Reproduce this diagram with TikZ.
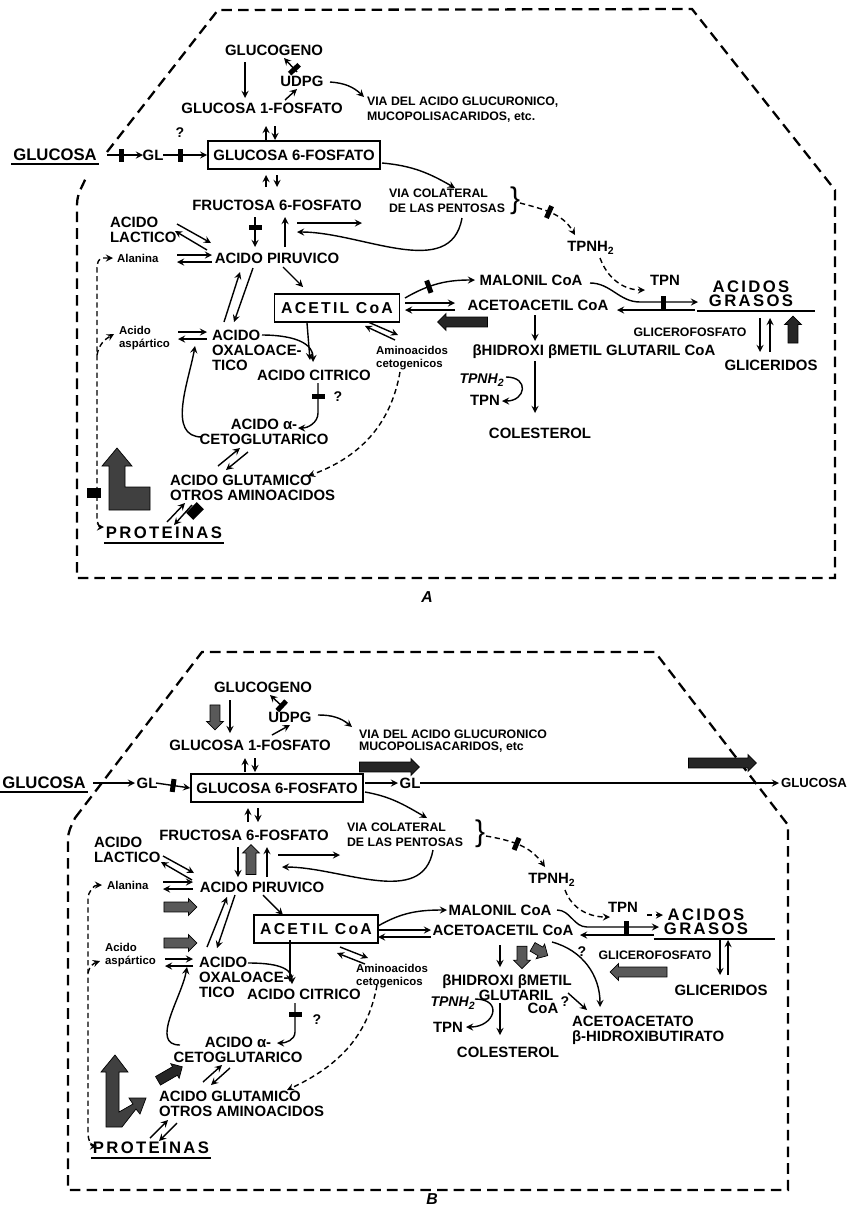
\documentclass[tikz,border=0pt]{standalone}
\usepackage{fontspec}
\setmainfont{Liberation Sans}
\newfontfamily\hvs[LetterSpace=14]{Liberation Sans}
\usetikzlibrary{calc,shapes.arrows}
\tikzset{
  lbl/.style={font=\bfseries\fontsize{8.5}{8.5}\selectfont, inner sep=1pt, align=left},
  sub/.style={font=\bfseries\fontsize{7}{8.5}\selectfont, inner sep=1pt, align=left},
  sml/.style={font=\bfseries\fontsize{6.5}{7.5}\selectfont, inner sep=1pt, align=left},
  itl/.style={font=\bfseries\itshape\fontsize{8}{8}\selectfont, inner sep=1pt},
  ttl/.style={font=\bfseries\fontsize{9.5}{8}\selectfont, inner sep=1pt},
  spc/.style={font=\hvs\bfseries\fontsize{9.5}{8}\selectfont, inner sep=1pt, align=center},
  bx/.style={lbl, draw, line width=1pt, inner xsep=3pt, minimum height=0.56cm},
  acbx/.style={draw, line width=1pt, font=\hvs\bfseries\fontsize{9}{9}\selectfont, minimum width=2.5cm, minimum height=0.56cm},
  brc/.style={font=\fontsize{17}{17}\selectfont, inner sep=0pt},
  qm/.style={font=\bfseries\fontsize{8}{8}\selectfont, inner sep=0pt},
  ar/.style={draw, line width=0.8pt, ->, >=stealth},
  dar/.style={ar, dash pattern=on 3pt off 2pt},
  bnd/.style={draw, line width=1.3pt, dash pattern=on 6pt off 3.5pt},
  uline/.style={draw, line width=1.2pt},
  brk/.style={fill=black, inner sep=0pt, minimum width=0.1cm, minimum height=0.26cm, sloped},
  blk/.style={fill=black, inner sep=0pt, minimum width=0.3cm, minimum height=0.2cm},
  fatar/.style={single arrow, draw=black, fill=black!85, inner sep=0pt, inner ysep=2.6pt,
    single arrow head extend=2pt, minimum height=#1},
  hfat/.style={fatar=#1, fill=black!65}
}
\begin{document}
\begin{tikzpicture}[x=0.02cm, y=-0.02cm]
\useasboundingbox (0,0) rectangle (847,1207);

% ---------- A ----------
\draw[bnd] (107,152) -- (218,10) -- (692,9) -- (835,190) -- (835,578) -- (77,578) -- (77,205) to[out=90,in=-110] (87,175);

\node[lbl] (glyA) at (274,50) {GLUCOGENO};
\node[lbl] (udpgA) at (302,81) {UDPG};
\node[lbl] (g1pA) at (262,108) {GLUCOSA 1-FOSFATO};
\node[sub, anchor=west] (viaA) at (365,110) {VIA DEL ACIDO GLUCURONICO,\\MUCOPOLISACARIDOS, etc.};
\node[ttl] (gA) at (55,155) {GLUCOSA};
\node[lbl] (glA) at (153,155) {GL};
\node[bx] (g6pA) at (294,155) {GLUCOSA 6-FOSFATO};
\node[lbl] (fruA) at (277,205) {FRUCTOSA 6-FOSFATO};
\node[lbl, anchor=west] (lacA) at (108,230) {ACIDO\\LACTICO};
\node[sml, anchor=west] (alaA) at (115,258) {Alanina};
\node[lbl] (pirA) at (277,258) {ACIDO PIRUVICO};
\node[sub, anchor=west] (colA) at (387,201) {VIA COLATERAL\\DE LAS PENTOSAS};
\node[brc] (brA) at (515,201) {\}};
\node[lbl] (tpA) at (591,248) {TPNH\textsubscript{2}};
\node[lbl] (tnA) at (665,280) {TPN};
\node[lbl] (malA) at (531,280) {MALONIL CoA};
\node[acbx] (acA) at (337,308) {ACETIL CoA};
\node[lbl] (aacA) at (538,305) {ACETOACETIL CoA};
\node[spc] (agA) at (751,294) {ACIDOS\\GRASOS};
\node[sub] (gfA) at (690,332) {GLICEROFOSFATO};
\node[lbl] (glcA) at (771,365) {GLICERIDOS};
\node[lbl] (hmA) at (594,352) {βHIDROXI βMETIL GLUTARIL CoA};
\node[itl] (tp2A) at (482,380) {TPNH\textsubscript{2}};
\node[lbl] (tn2A) at (485,400) {TPN};
\node[lbl] (clA) at (540,433) {COLESTEROL};
\node[sml, anchor=west] (asA) at (117,338) {Acido\\aspártico};
\node[lbl, anchor=west] (oxA) at (210,350) {ACIDO\\OXALOACE-\\TICO};
\node[lbl] (ciA) at (314,375) {ACIDO CITRICO};
\node[sml] (amA) at (412,358) {Aminoacidos\\cetogenicos};
\node[lbl, align=center] (akA) at (264,432) {ACIDO α-\\CETOGLUTARICO};
\node[lbl, anchor=west] (guA) at (168,488) {ACIDO GLUTAMICO\\OTROS AMINOACIDOS};
\node[spc] (prA) at (164,533) {PROTEINAS};
\node[itl, font=\bfseries\itshape\fontsize{9}{9}\selectfont] (labA) at (427,597) {A};
\node[qm] (qA1) at (180,133) {?};
\node[qm] (qA2) at (338,397) {?};

\draw[uline] ($(gA.south west)+(0,1)$) -- ($(gA.south east)+(0,1)$);
\draw[uline] ($(prA.south west)+(0,2)$) -- ($(prA.south east)+(0,2)$);
\draw[uline] ($(agA.south west)+(-10,2)$) -- ($(agA.south east)+(20,2)$);

\draw[ar] ($(glyA)+(-29,12)$) -- ($(g1pA)+(-17,-10)$);
\draw[ar] ($(udpgA)+(-5,-9)$) -- node[brk, pos=0.2]{} ($(glyA)+(10,8)$);
\draw[ar] ($(g1pA)+(23,-8)$) -- ($(udpgA)+(-5,8)$);
\draw[ar] ($(udpgA)+(28,1)$) to[bend left=20] ($(viaA.west)+(-1,-13)$);
\draw[ar] ($(g6pA)+(-28,-15)$) -- ($(g1pA)+(4,18)$);
\draw[ar] ($(g1pA)+(13,18)$) -- ($(g6pA)+(-19,-15)$);
\draw[ar] ($(gA)+(52,0)$) -- node[brk, pos=0.4]{} ($(glA)+(-10,0)$);
\draw[ar] ($(glA)+(10,0)$) -- node[brk, pos=0.4]{} (g6pA.west);
\draw[ar] ($(g6pA)+(88,8)$) to[out=-5,in=150] ($(colA.west)+(68,-13)$);
\draw[ar] ($(fruA)+(-11,-18)$) -- ($(g6pA)+(-28,20)$);
\draw[ar] ($(g6pA)+(-17,20)$) -- ($(fruA)+(0,-18)$);
\draw[ar] ($(fruA)+(-22,12)$) -- node[brk, pos=0.35]{} ($(pirA)+(-22,-11)$);
\draw[ar] ($(pirA)+(8,-11)$) -- ($(fruA)+(8,12)$);
\draw[ar] ($(pirA)+(20,-35)$) -- ($(colA.west)+(-25,22)$);
\draw[ar] ($(colA.west)+(75,17)$) to[out=-100,in=0] ($(pirA)+(20,-26)$);
\draw[dar] ($(brA)+(5,2)$) to[out=-15,in=120] node[brk, pos=0.45]{} ($(tpA)+(-16,-13)$);
\draw[dar] ($(tpA)+(9,10)$) to[out=-70,in=180] ($(tnA)+(-20,10)$);
\draw[ar] ($(acA)+(68,-10)$) to[out=30,in=180] node[brk, pos=0.35]{} ($(malA)+(-56,0)$);
\draw[ar] ($(acA)+(68,-5)$) -- ($(aacA)+(-83,-2)$);
\draw[ar] ($(aacA)+(-83,5)$) -- ($(acA)+(68,2)$);
\node[fatar=1cm, rotate=180] (faA1) at (465,322) {};
\draw[ar] ($(malA)+(59,3)$) to[out=0,in=180] ($(malA)+(109,22)$) -- node[brk, pos=0.4]{} ($(agA)+(-53,8)$);
\draw[ar] ($(agA)+(-56,16)$) -- ($(aacA)+(79,5)$);
\draw[ar] ($(aacA)+(-3,10)$) -- ($(hmA)+(-59,-11)$);
\draw[ar] ($(hmA)+(-59,9)$) -- ($(clA)+(-5,-20)$);
\draw[ar] ($(tp2A)+(24,-3)$) to[out=0,in=0,looseness=2.5] ($(tn2A)+(17,1)$);
\draw[ar] ($(agA)+(9,24)$) -- ($(glcA)+(-11,-13)$);
\draw[ar] ($(glcA)+(-1,-13)$) -- ($(agA)+(19,24)$);
\node[fatar=0.54cm, rotate=90] (faA2) at (793,332) {};
\draw[ar] ($(pirA)+(6,9)$) -- ($(acA)+(-34,-21)$);
\draw[ar] ($(oxA.west)+(14,-28)$) -- ($(pirA)+(-37,14)$);
\draw[ar] ($(pirA)+(-24,10)$) -- ($(oxA.west)+(24,-28)$);
\draw[ar] ($(lacA.west)+(69,-6)$) -- ($(pirA)+(-66,-15)$);
\draw[ar] ($(pirA)+(-70,-8)$) -- ($(lacA.west)+(67,1)$);
\draw[ar] ($(alaA.west)+(62,-3)$) -- ($(pirA)+(-65,-3)$);
\draw[ar] ($(pirA)+(-65,4)$) -- ($(alaA.west)+(62,4)$);
\draw[ar] ($(asA.west)+(61,-6)$) -- ($(oxA.west)+(-3,-18)$);
\draw[ar] ($(oxA.west)+(-3,-11)$) -- ($(asA.west)+(61,1)$);
\draw[ar] ($(oxA.west)+(52,-15)$) to[out=0,in=90] ($(ciA)+(-1,-13)$);
\draw[ar] ($(acA)+(-30,15)$) -- ($(ciA)+(-4,-15)$);
\draw[ar] ($(ciA)+(4,8)$) -- node[brk, pos=0.45]{} ($(ciA)+(4,38)$) to[out=-90,in=0] ($(akA)+(34,-4)$);
\draw[ar] ($(akA)+(-62,5)$) to[out=180,in=-100] ($(oxA.west)+(-15,-4)$);
\draw[ar] ($(guA.west)+(50,-22)$) -- ($(akA)+(-24,16)$);
\draw[ar] ($(akA)+(-16,20)$) -- ($(guA.west)+(58,-18)$);
\draw[dar] ($(amA)+(-12,14)$) to[out=-100,in=20] ($(guA.west)+(140,-12)$);
\draw[ar] ($(acA)+(31,14)$) -- ($(amA)+(-14,-23)$);
\draw[ar] ($(amA)+(-17,-18)$) -- ($(acA)+(28,18)$);
\draw[ar] ($(prA)+(3,-11)$) -- ($(guA.west)+(17,15)$);
\draw[ar] ($(guA.west)+(24,17)$) -- ($(prA)+(10,-8)$);
\node[blk, rotate=45] (bkA1) at (195,511) {};
\draw[dar, <->] ($(alaA.west)+(-2,0)$) -- ($(alaA.west)+(-12,0)$) to[out=180,in=90] ($(alaA.west)+(-18,10)$)
  -- ($(prA)+(-67,-15)$) to[out=-90,in=180] ($(prA)+(-60,-6)$);
\draw[dar] ($(alaA.west)+(-18,97)$) to[out=80,in=210] ($(asA.west)+(-3,-4)$);
\node[blk] (bkA2) at (94,493) {};
\filldraw[fill=black!75] (117,448) -- (132,466) -- (125,466) -- (125,487) -- (150,487) -- (150,510)
  -- (109,510) -- (109,466) -- (102,466) -- cycle;

% ---------- B ----------
\draw[bnd] (75,818) -- (202,652) -- (655,652) -- (788,825) -- (788,1190) -- (68,1190) -- (68,840) to[out=90,in=-115] (75,818);

\node[lbl] (glyB) at (263,687) {GLUCOGENO};
\node[lbl] (udpgB) at (290,717) {UDPG};
\node[lbl] (g1pB) at (250,745) {GLUCOSA 1-FOSFATO};
\node[sub, anchor=west] (viaB) at (357,741) {VIA DEL ACIDO GLUCURONICO\\[-2pt]MUCOPOLISACARIDOS, etc};
\node[ttl] (gB) at (44,783) {GLUCOSA};
\node[lbl] (glB) at (147,783) {GL};
\node[bx] (g6pB) at (277,788) {GLUCOSA 6-FOSFATO};
\node[lbl] (gl2B) at (410,783) {GL};
\node[sub, font=\bfseries\fontsize{7.5}{8}\selectfont, anchor=west] (grB) at (779,783) {GLUCOSA};
\node[lbl] (fruB) at (244,835) {FRUCTOSA 6-FOSFATO};
\node[sub, anchor=west] (colB) at (345,835) {VIA COLATERAL\\DE LAS PENTOSAS};
\node[brc] (brB) at (480,834) {\}};
\node[lbl, anchor=west] (lacB) at (92,850) {ACIDO\\LACTICO};
\node[sml, anchor=west] (alaB) at (105,885) {Alanina};
\node[lbl] (pirB) at (262,887) {ACIDO PIRUVICO};
\node[lbl] (tpB) at (552,880) {TPNH\textsubscript{2}};
\node[lbl] (tnB) at (623,907) {TPN};
\node[lbl] (malB) at (500,910) {MALONIL CoA};
\node[lbl] (aacB) at (503,930) {ACETOACETIL CoA};
\node[spc] (agB) at (706,922) {ACIDOS\\GRASOS};
\node[acbx, minimum width=2.36cm] (acB) at (316,929) {ACETIL CoA};
\node[sml, anchor=west] (asB) at (103,955) {Acido\\aspártico};
\node[lbl, anchor=west] (oxB) at (197,977) {ACIDO\\OXALOACE-\\TICO};
\node[lbl] (ciB) at (304,994) {ACIDO CITRICO};
\node[sml] (amB) at (392,976) {Aminoacidos\\cetogenicos};
\node[sub] (gfB) at (655,955) {GLICEROFOSFATO};
\node[lbl] (glcB) at (721,990) {GLICERIDOS};
\node[lbl] (hm1B) at (507,982) {βHIDROXI βMETIL};
\node[lbl] (hm2B) at (516,995) {GLUTARIL};
\node[lbl] (hm3B) at (543,1008) {CoA};
\node[lbl, anchor=west] (aaB) at (570,1030) {ACETOACETATO\\β-HIDROXIBUTIRATO};
\node[itl] (tp2B) at (453,1003) {TPNH\textsubscript{2}};
\node[lbl] (tn2B) at (448,1027) {TPN};
\node[lbl] (clB) at (508,1052) {COLESTEROL};
\node[lbl, align=center] (akB) at (238,1050) {ACIDO α-\\CETOGLUTARICO};
\node[lbl, anchor=west] (guB) at (157,1104) {ACIDO GLUTAMICO\\OTROS AMINOACIDOS};
\node[spc] (prB) at (151,1148) {PROTEINAS};
\node[itl, font=\bfseries\itshape\fontsize{9}{9}\selectfont] (labB) at (432,1199) {B};
\node[qm] (qB1) at (317,1020) {?};
\node[qm] (qB2) at (582,952) {?};
\node[qm] (qB3) at (565,1002) {?};

\draw[uline] ($(gB.south west)+(0,1)$) -- ($(gB.south east)+(0,1)$);
\draw[uline] ($(prB.south west)+(0,2)$) -- ($(prB.south east)+(0,2)$);
\draw[uline] ($(agB.south west)+(-8,2)$) -- ($(agB.south east)+(25,2)$);

\draw[ar] ($(glyB)+(-33,13)$) -- ($(g1pB)+(-20,-12)$);
\node[hfat=0.5cm, rotate=-90] (fbB1) at (215,715) {};
\draw[ar] ($(udpgB)+(-7,-10)$) -- node[brk, pos=0.1]{} ($(glyB)+(7,8)$);
\draw[ar] ($(g1pB)+(22,-10)$) -- ($(udpgB)+(0,8)$);
\draw[ar] ($(udpgB)+(28,-2)$) to[bend left=20] ($(viaB.west)+(-5,-14)$);
\draw[ar] ($(g6pB)+(-32,-16)$) -- ($(g1pB)+(-5,13)$);
\draw[ar] ($(g1pB)+(5,13)$) -- ($(g6pB)+(-22,-16)$);
\draw[ar] ($(gB)+(49,0)$) -- ($(glB)+(-12,0)$);
\draw[ar] ($(glB)+(9,0)$) -- node[brk]{} (g6pB.west);
\draw[ar] ($(g6pB)+(88,-5)$) -- ($(gl2B)+(-12,0)$);
\draw[ar] ($(gl2B)+(10,0)$) -- (grB.west);
\node[fatar=1.2cm] (fbB2) at (387,767) {};
\node[fatar=1.36cm] (fbB3) at (720,763) {};
\draw[ar] ($(g6pB)+(88,4)$) to[out=-10,in=150] ($(colB.west)+(82,-17)$);
\draw[ar] ($(fruB)+(4,-13)$) -- ($(g6pB)+(-29,20)$);
\draw[ar] ($(g6pB)+(-19,20)$) -- ($(fruB)+(14,-13)$);
\draw[ar] ($(fruB)+(-6,12)$) -- ($(pirB)+(-24,-10)$);
\node[hfat=0.6cm, rotate=90] (fbB4) at (251,862) {};
\draw[ar] ($(pirB)+(5,-10)$) -- ($(fruB)+(23,12)$);
\draw[ar] ($(fruB)+(34,20)$) -- ($(colB.west)+(-5,20)$);
\draw[ar] ($(colB.west)+(88,15)$) to[out=-100,in=0] ($(pirB)+(20,-20)$);
\draw[dar] ($(brB)+(6,2)$) to[out=-10,in=125] node[brk, pos=0.45]{} ($(tpB)+(-7,-13)$);
\draw[dar] ($(tpB)+(13,10)$) to[out=-70,in=180] ($(tnB)+(-13,10)$);
\draw[dar] ($(tnB)+(24,8)$) -- ($(agB)+(-43,-7)$);
\draw[ar] ($(acB)+(62,-3)$) to[out=30,in=180] ($(malB)+(-53,0)$);
\draw[ar] ($(acB)+(62,1)$) -- ($(aacB)+(-72,0)$);
\draw[ar] ($(aacB)+(-72,7)$) -- ($(acB)+(62,8)$);
\draw[ar] ($(malB)+(57,0)$) to[out=0,in=180] ($(malB)+(87,17)$) -- node[brk, pos=0.55]{} ($(agB)+(-47,5)$);
\draw[ar] ($(agB)+(-52,13)$) -- ($(aacB)+(77,5)$);
\draw[ar] ($(aacB)+(49,12)$) to[out=-15,in=90] ($(aaB.west)+(30,-23)$);
\draw[ar] ($(aacB)+(-3,15)$) -- ($(hm1B)+(-7,-15)$);
\node[hfat=0.45cm, rotate=-90] (fbB5) at (522,955) {};
\node[hfat=0.35cm, rotate=-30] (fbB6) at (538,950) {};
\draw[ar] ($(hm2B)+(-16,8)$) -- ($(clB)+(-8,-17)$);
\draw[ar] ($(tp2B)+(22,-4)$) to[out=0,in=0,looseness=2.5] ($(tn2B)+(18,0)$);
\draw[ar] ($(hm3B)+(25,-15)$) -- ($(aaB.west)+(17,-20)$);
\draw[ar] ($(agB)+(14,18)$) -- ($(glcB)+(-1,-15)$);
\draw[ar] ($(glcB)+(7,-15)$) -- ($(agB)+(22,18)$);
\node[hfat=1.14cm, rotate=180] (fbB7) at (641,972) {};
\draw[ar] ($(pirB)+(1,8)$) -- ($(acB)+(-33,-14)$);
\draw[ar] ($(oxB.west)+(10,-30)$) -- ($(pirB)+(-35,10)$);
\draw[ar] ($(pirB)+(-27,8)$) -- ($(oxB.west)+(20,-29)$);
\draw[ar] ($(lacB.west)+(71,6)$) -- ($(pirB)+(-68,-14)$);
\draw[ar] ($(pirB)+(-70,-7)$) -- ($(lacB.west)+(69,12)$);
\draw[ar] ($(alaB.west)+(58,-3)$) -- ($(pirB)+(-69,-5)$);
\draw[ar] ($(pirB)+(-69,2)$) -- ($(alaB.west)+(58,4)$);
\node[hfat=0.66cm] (fbB8) at (178,907) {};
\node[hfat=0.66cm] (fbB9) at (178,943) {};
\draw[ar] ($(asB.west)+(62,4)$) -- ($(oxB.west)+(-4,-18)$);
\draw[ar] ($(oxB.west)+(-4,-11)$) -- ($(asB.west)+(62,11)$);
\draw[ar] ($(oxB.west)+(51,-14)$) to[out=0,in=90] ($(ciB)+(-12,-10)$);
\draw[ar] ($(acB)+(-26,11)$) -- ($(ciB)+(-14,-12)$);
\draw[ar] ($(acB)+(24,18)$) -- ($(amB)+(-24,-18)$);
\draw[ar] ($(amB)+(-27,-12)$) -- ($(acB)+(21,24)$);
\draw[ar] ($(ciB)+(-9,9)$) -- node[brk, pos=0.4]{} ($(ciB)+(-9,38)$) to[out=-90,in=0] ($(akB)+(39,-7)$);
\draw[ar] ($(akB)+(-58,-5)$) to[out=180,in=-100] ($(oxB.west)+(-10,-10)$);
\node[fatar=0.56cm, rotate=30] (fbB10) at (168,1075) {};
\draw[ar] ($(guB.west)+(46,-22)$) -- ($(akB)+(-16,15)$);
\draw[ar] ($(akB)+(-8,18)$) -- ($(guB.west)+(54,-19)$);
\draw[dar] ($(amB)+(-15,9)$) to[out=-100,in=25] ($(guB.west)+(130,-14)$);
\draw[ar] ($(prB)+(-1,-10)$) -- ($(guB.west)+(11,16)$);
\draw[ar] ($(guB.west)+(20,19)$) -- ($(prB)+(8,-7)$);
\draw[dar, <->] ($(alaB.west)+(-3,0)$) to[out=180,in=90] ($(alaB.west)+(-17,14)$)
  -- ($(prB)+(-63,-15)$) to[out=-90,in=180] ($(prB)+(-54,-2)$);
\draw[dar] ($(alaB.west)+(-17,88)$) to[out=80,in=200] ($(asB.west)+(-3,6)$);
\filldraw[fill=black!75] (115,1055) -- (128,1072) -- (119,1072) -- (119,1112) -- (133,1104) -- (129,1098)
  -- (146,1098) -- (140,1114) -- (136,1109) -- (122,1127) -- (106,1127) -- (106,1072) -- (101,1072) -- cycle;
\end{tikzpicture}
\end{document}
